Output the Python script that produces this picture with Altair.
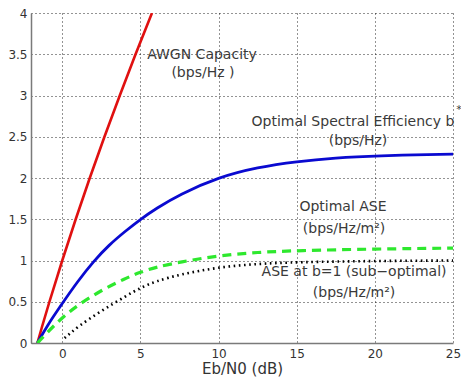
import altair as alt
import pandas as pd

# --- data ---
awgn_x = [-1.59, -1.29, -0.82, 0.0, 0.86, 1.76, 2.70, 3.68, 4.69, 5.74]
awgn_y = [0.0, 0.2, 0.5, 1.0, 1.5, 2.0, 2.5, 3.0, 3.5, 4.0]

opt_se_x = [-1.59, -1.0, 0.0, 1.0, 2.0, 3.0, 4.0, 5.0, 6.0, 7.5, 10.0, 12.5, 15.0, 17.5, 20.0, 25.0]
opt_se_y = [0.0, 0.2, 0.48, 0.75, 0.99, 1.19, 1.35, 1.5, 1.63, 1.80, 2.01, 2.13, 2.2, 2.245, 2.27, 2.29]

opt_ase_x = [-1.59, -1.0, 0.0, 1.0, 2.5, 4.0, 5.0, 6.0, 7.5, 10.0, 12.5, 15.0, 20.0, 25.0]
opt_ase_y = [0.0, 0.12, 0.31, 0.46, 0.64, 0.78, 0.86, 0.92, 0.98, 1.06, 1.10, 1.12, 1.14, 1.15]

ase_b1_x = [0.15, 1.0, 2.5, 4.0, 5.0, 6.0, 7.5, 10.0, 12.5, 15.0, 20.0, 25.0]
ase_b1_y = [0.06, 0.2, 0.39, 0.56, 0.67, 0.75, 0.83, 0.92, 0.96, 0.98, 0.995, 1.0]

label_text = ["AWGN Capacity", "(bps/Hz )", "Optimal Spectral Efficiency b", "(bps/Hz)",
              "Optimal ASE", "(bps/Hz/m²)", "ASE at b=1 (sub−optimal)", "(bps/Hz/m²)"]
label_x = [8.94, 9.0, 18.6, 18.92, 17.96, 18.03, 18.67, 18.67]
label_y = [3.49, 3.27, 2.68, 2.45, 1.65, 1.38, 0.86, 0.61]

sup_text = ["*"]
sup_x = [25.2]
sup_y = [2.82]

x_ticks = [0, 5, 10, 15, 20, 25]
y_ticks = [0, 0.5, 1, 1.5, 2, 2.5, 3, 3.5, 4]

FONT = "DejaVu Sans"

xs = alt.Scale(domain=[-2, 25], nice=False, zero=False)
ys = alt.Scale(domain=[0, 4], nice=False)

xaxis = alt.Axis(values=x_ticks, title="Eb/N0 (dB)", grid=True, ticks=False,
                 labelFlush=False, labelPadding=5, titlePadding=2,
                 format="~g")
yaxis = alt.Axis(values=y_ticks, title=None, grid=True, ticks=False,
                 labelFlush=False, labelPadding=4, format="~g")

X = lambda: alt.X("x:Q", scale=xs, axis=xaxis)
Y = lambda: alt.Y("y:Q", scale=ys, axis=yaxis)


def line_layer(xv, yv, color, width, dash=None, interp="basis"):
    df = pd.DataFrame({"x": xv, "y": yv})
    kw = dict(color=color, strokeWidth=width, clip=True, interpolate=interp)
    if dash is not None:
        kw["strokeDash"] = dash
    return alt.Chart(df).mark_line(**kw).encode(x=X(), y=Y(), order=alt.Order("x:Q"))


red = line_layer(awgn_x, awgn_y, "#e01010", 2.6, interp="monotone")
blue = line_layer(opt_se_x, opt_se_y, "#0a0ad0", 2.8)
green = line_layer(opt_ase_x, opt_ase_y, "#2ee82e", 3.2, dash=[9, 6])
black = line_layer(ase_b1_x, ase_b1_y, "#000000", 2.6, dash=[1.6, 3.6])

labels = alt.Chart(pd.DataFrame({"t": label_text, "x": label_x, "y": label_y})).mark_text(
    font=FONT, fontSize=14, color="#3a3a3a", align="center", baseline="middle"
).encode(x=X(), y=Y(), text="t:N")

sup = alt.Chart(pd.DataFrame({"t": sup_text, "x": sup_x, "y": sup_y})).mark_text(
    font=FONT, fontSize=11, color="#3a3a3a", align="left", baseline="middle"
).encode(x=X(), y=Y(), text="t:N")

chart = alt.layer(red, blue, green, black, labels, sup).properties(
    width=422, height=330,
    autosize=alt.AutoSizeParams(type="none"),
    padding={"left": 23, "top": 5, "right": 8, "bottom": 36},
).configure_view(stroke=None).configure_axis(
    gridColor="#000000", gridDash=[1, 3], gridWidth=1, gridOpacity=0.85,
    domainColor="#7a7a7a", domainWidth=1.5,
    labelFont=FONT, labelFontSize=12, labelColor="#333333",
    titleFont=FONT, titleFontSize=15, titleFontWeight="normal", titleColor="#333333",
)

chart.save("out.html", embed_options={"renderer": "svg", "actions": False})
